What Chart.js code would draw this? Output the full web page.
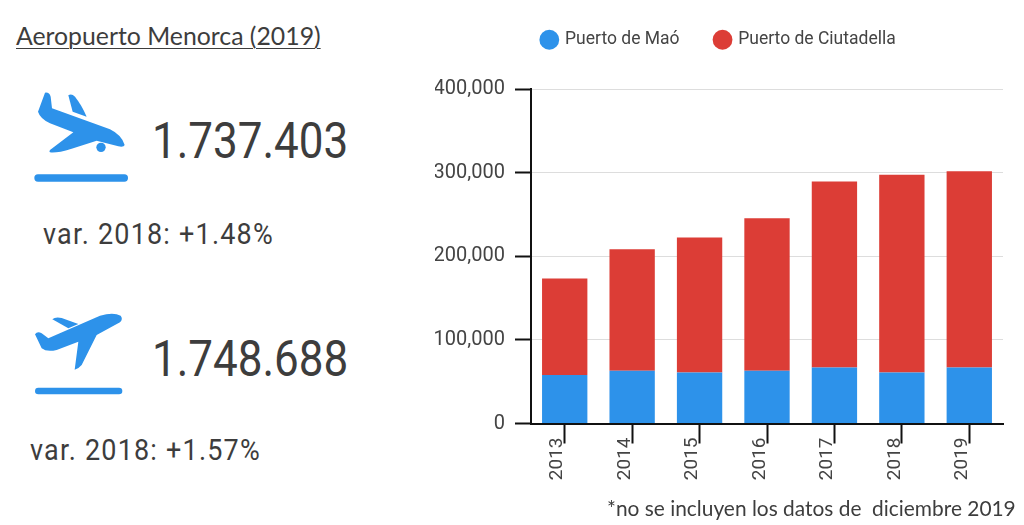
<!DOCTYPE html>
<html>
<head>
<meta charset="utf-8">
<title>Aeropuerto Menorca (2019)</title>
<script src="https://cdn.jsdelivr.net/npm/chart.js@4"></script>
<style>
  html, body { margin: 0; padding: 0; background: #fff; }
  #page { position: relative; width: 1024px; height: 525px; overflow: hidden; }
  #page div { position: absolute; white-space: nowrap; color: #3d3d3d; transform-origin: 0 0; }
  #title { left: 16px; top: 21px; font: 24.8px Lato; text-decoration: underline; text-decoration-thickness: 1px; text-underline-offset: 3px; }
  .big { font: 400 50px Roboto; transform: scaleX(0.88); }
  .var { font: 29px Roboto; letter-spacing: 1.3px; transform: scaleX(0.93); }
  #note { left: 607px; top: 495px; font: 20.9px Lato; color: #444; }
  svg { position: absolute; left: 0; }
  canvas { position: absolute; left: 420px; top: 0; }
</style>
</head>
<body>
<div id="page">
  <div id="title">Aeropuerto Menorca (2019)</div>

  <svg style="top:70px" width="180" height="130" viewBox="0 0 540 390" fill="#2d92ea">
    <path d="M135 68Q148 66 152 80L156 115L330 178Q365 195 374 225Q372 232 355 229L290 212L215 236Q170 250 150 247Q145 243 155 236L220 187L150 160Q120 145 114 125Z"/>
    <path d="M205 76Q215 70 225 80Q245 105 260 140L218 125Z"/>
    <circle cx="303" cy="232" r="14"/>
    <rect x="103" y="313" width="281" height="22" rx="11"/>
  </svg>
  <div class="big" style="left:152px;top:112px">1.737.403</div>
  <div class="var" style="left:43px;top:217px">var. 2018: +1.48%</div>

  <svg style="top:295px" width="180" height="130" viewBox="0 0 540 390" fill="#2d92ea">
    <path d="M105 118Q112 108 125 115L145 130L300 62Q340 50 362 62Q370 72 360 82L290 120L245 210Q235 222 224 224L235 140L170 165Q140 172 125 160Z"/>
    <path d="M157 73Q165 65 185 69L235 87L205 100Z"/>
    <rect x="105" y="278" width="262" height="20" rx="10"/>
  </svg>
  <div class="big" style="left:152px;top:330px">1.748.688</div>
  <div class="var" style="left:30px;top:433px">var. 2018: +1.57%</div>

  <canvas id="chart" width="604" height="525"></canvas>
  <div id="note">*no se incluyen los datos de&nbsp; diciembre 2019</div>
</div>

<script>
const years = ['2013', '2014', '2015', '2016', '2017', '2018', '2019'];
const puertoMao = [58000, 63000, 61000, 63000, 67000, 61000, 67000];
const puertoCiutadella = [115500, 145500, 161500, 182500, 222500, 236500, 234500];

const textColor = '#444444';

// legend gets a fixed height and sits higher than its padding would put it
const legendPlace = {
  id: 'legendPlace',
  beforeInit(chart) {
    const fit = chart.legend.fit;
    chart.legend.fit = function () {
      fit.call(this);
      this.height = 89;
    };
  },
  afterLayout(chart) {
    chart.legend.top -= 5;
  }
};

new Chart(document.getElementById('chart'), {
  type: 'bar',
  plugins: [legendPlace],
  data: {
    labels: years,
    datasets: [
      { label: 'Puerto de Maó', data: puertoMao, backgroundColor: '#2d92ea' },
      { label: 'Puerto de Ciutadella', data: puertoCiutadella, backgroundColor: '#dc3d36' }
    ]
  },
  options: {
    responsive: false,
    animation: false,
    devicePixelRatio: 1,
    layout: { padding: { left: 15, right: 21 } },
    datasets: { bar: { categoryPercentage: 0.82, barPercentage: 0.82 } },
    plugins: {
      tooltip: { enabled: false },
      legend: {
        position: 'top',
        labels: {
          usePointStyle: true,
          pointStyle: 'circle',
          boxWidth: 14,
          boxHeight: 14,
          padding: 36,
          color: textColor,
          font: { family: 'Roboto', size: 17.5 }
        }
      }
    },
    scales: {
      x: {
        stacked: true,
        afterFit(scale) { scale.height = 101.5; },
        grid: { offset: false, drawOnChartArea: false, tickLength: 20, tickColor: '#111', tickWidth: 2 },
        border: { display: true, color: '#111', width: 2 },
        ticks: {
          maxRotation: 90,
          minRotation: 90,
          padding: -6,
          labelOffset: -7,
          color: textColor,
          font: { family: 'Roboto', size: 19 }
        }
      },
      y: {
        stacked: true,
        min: 0,
        max: 400000,
        afterFit(scale) { scale.width = 96; },
        grid: { color: '#dddddd', lineWidth: 1, tickLength: 16, tickColor: '#111', tickWidth: 2 },
        border: { color: '#111', width: 2 },
        ticks: {
          stepSize: 100000,
          padding: 10,
          color: textColor,
          font: { family: 'Roboto', size: 20 },
          callback: value => value.toLocaleString('en-US')
        }
      }
    }
  }
});
</script>
</body>
</html>
